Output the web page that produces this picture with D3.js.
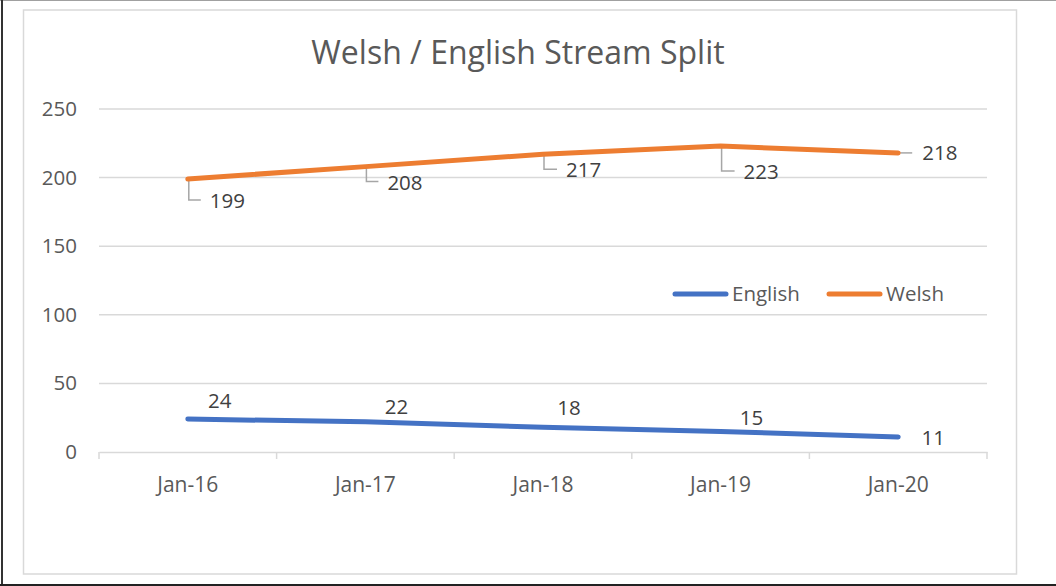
<!DOCTYPE html>
<html>
<head>
<meta charset="utf-8">
<script src="https://cdn.jsdelivr.net/npm/d3@7"></script>
<style>
  body { margin: 0; background: #fff; }
  text { font-family: "Open Sans", sans-serif; }
</style>
</head>
<body>
<div id="chart"></div>
<script>
// chart data
var categories = ["Jan-16", "Jan-17", "Jan-18", "Jan-19", "Jan-20"];
var english = [24, 22, 18, 15, 11];
var welsh = [199, 208, 217, 223, 218];
var yTicks = [0, 50, 100, 150, 200, 250];

// label nudges (pixels) - Excel moved some labels around
var welshNudge = [[22, 22], [22, 16], [23, 16], [23, 26], [24, 0]];
var englishNudge = [[32, -18], [31, -15], [26, -19], [31, -14], [35, 1]];

var W = 1056, H = 586;
var svg = d3.select("#chart").append("svg")
  .attr("width", W)
  .attr("height", H);

// outer frame
svg.append("line").attr("x1", 0).attr("x2", W).attr("y1", 0.5).attr("y2", 0.5)
  .attr("stroke", "#a0a0a0").attr("stroke-width", 1);
svg.append("line").attr("x1", 2).attr("x2", 2).attr("y1", 0).attr("y2", H)
  .attr("stroke", "#333").attr("stroke-width", 2);
svg.append("line").attr("x1", 0).attr("x2", W).attr("y1", 585).attr("y2", 585)
  .attr("stroke", "#222").attr("stroke-width", 2);

// chart area border
svg.append("rect")
  .attr("x", 23.5).attr("y", 10)
  .attr("width", 993).attr("height", 564)
  .attr("fill", "#fff")
  .attr("stroke", "#d9d9d9").attr("stroke-width", 1.5);

var x = d3.scaleBand().domain(categories).range([99, 987]).padding(0);
var y = d3.scaleLinear().domain([0, 250]).range([452, 109]);
function cx(i) { return x(categories[i]) + x.bandwidth() / 2; }

// gridlines
svg.append("g")
  .selectAll("line")
  .data(yTicks.slice(1))
  .join("line")
  .attr("x1", 99).attr("x2", 987)
  .attr("y1", d => y(d)).attr("y2", d => y(d))
  .attr("stroke", "#d9d9d9").attr("stroke-width", 1.5);

// y axis labels
var yAxis = d3.axisLeft(y).tickValues(yTicks).tickSize(0).tickPadding(0);
var gy = svg.append("g").attr("transform", "translate(77,0)").call(yAxis);
gy.select(".domain").remove();
gy.selectAll("text")
  .attr("fill", "#595959")
  .style("font-size", "20.5px")
  .style("font-family", "Open Sans, sans-serif");

// x axis
var xAxis = d3.axisBottom(x).tickSize(0).tickPadding(0);
var gx = svg.append("g").attr("transform", "translate(0,452)").call(xAxis);
gx.select(".domain").attr("stroke", "#d9d9d9").attr("stroke-width", 1.5);
gx.selectAll(".tick text")
  .attr("dy", "0")
  .attr("y", 40)
  .attr("fill", "#595959")
  .style("font-size", "21px")
  .style("font-family", "Open Sans, sans-serif");
// tick marks between categories
var bounds = categories.map(function (c) { return x(c); }).concat([x.range()[1]]);
gx.append("g").selectAll("line")
  .data(bounds)
  .join("line")
  .attr("x1", d => d).attr("x2", d => d)
  .attr("y1", 0).attr("y2", 7)
  .attr("stroke", "#d9d9d9").attr("stroke-width", 1.5);

// title
svg.append("text")
  .attr("x", 518).attr("y", 64)
  .attr("text-anchor", "middle")
  .attr("fill", "#595959")
  .style("font-size", "32px")
  .text("Welsh / English Stream Split");

var line = d3.line()
  .x(function (d, i) { return cx(i); })
  .y(function (d) { return y(d); });

// leader lines for welsh labels
var leaders = svg.append("g").attr("stroke", "#a6a6a6").attr("stroke-width", 1.5).attr("fill", "none");
welsh.forEach(function (v, i) {
  var px = cx(i), py = y(v), n = welshNudge[i];
  var d;
  if (n[1] === 0) {
    d = "M" + (px + 2) + "," + py + "H" + (px + n[0] - 10);
  } else {
    d = "M" + (px + 1) + "," + (py + 1) + "V" + (py + n[1] - 1) + "H" + (px + n[0] - 9);
  }
  leaders.append("path").attr("d", d);
});

svg.append("path")
  .datum(english)
  .attr("d", line)
  .attr("fill", "none")
  .attr("stroke", "#4472C4")
  .attr("stroke-width", 5)
  .attr("stroke-linecap", "round");

svg.append("path")
  .datum(welsh)
  .attr("d", line)
  .attr("fill", "none")
  .attr("stroke", "#ED7D31")
  .attr("stroke-width", 5)
  .attr("stroke-linecap", "round");

// data labels
svg.append("g").selectAll("text")
  .data(welsh)
  .join("text")
  .attr("x", (d, i) => cx(i) + welshNudge[i][0])
  .attr("y", (d, i) => y(d) + welshNudge[i][1])
  .attr("dy", "0.35em")
  .attr("fill", "#404040")
  .style("font-size", "20.5px")
  .text(d => d);

svg.append("g").selectAll("text")
  .data(english)
  .join("text")
  .attr("x", (d, i) => cx(i) + englishNudge[i][0])
  .attr("y", (d, i) => y(d) + englishNudge[i][1])
  .attr("dy", "0.35em")
  .attr("text-anchor", "middle")
  .attr("fill", "#404040")
  .style("font-size", "20.5px")
  .text(d => d);

// legend
var legendItems = [
  { name: "English", color: "#4472C4", x: 673 },
  { name: "Welsh", color: "#ED7D31", x: 827 }
];
var lg = svg.append("g").selectAll("g")
  .data(legendItems)
  .join("g")
  .attr("transform", d => "translate(" + d.x + ",294)");
lg.append("line")
  .attr("x1", 2).attr("x2", 53)
  .attr("stroke", d => d.color)
  .attr("stroke-width", 5)
  .attr("stroke-linecap", "round");
lg.append("text")
  .attr("x", 59)
  .attr("dy", "0.35em")
  .attr("fill", "#595959")
  .style("font-size", "20.5px")
  .text(d => d.name);
</script>
</body>
</html>
